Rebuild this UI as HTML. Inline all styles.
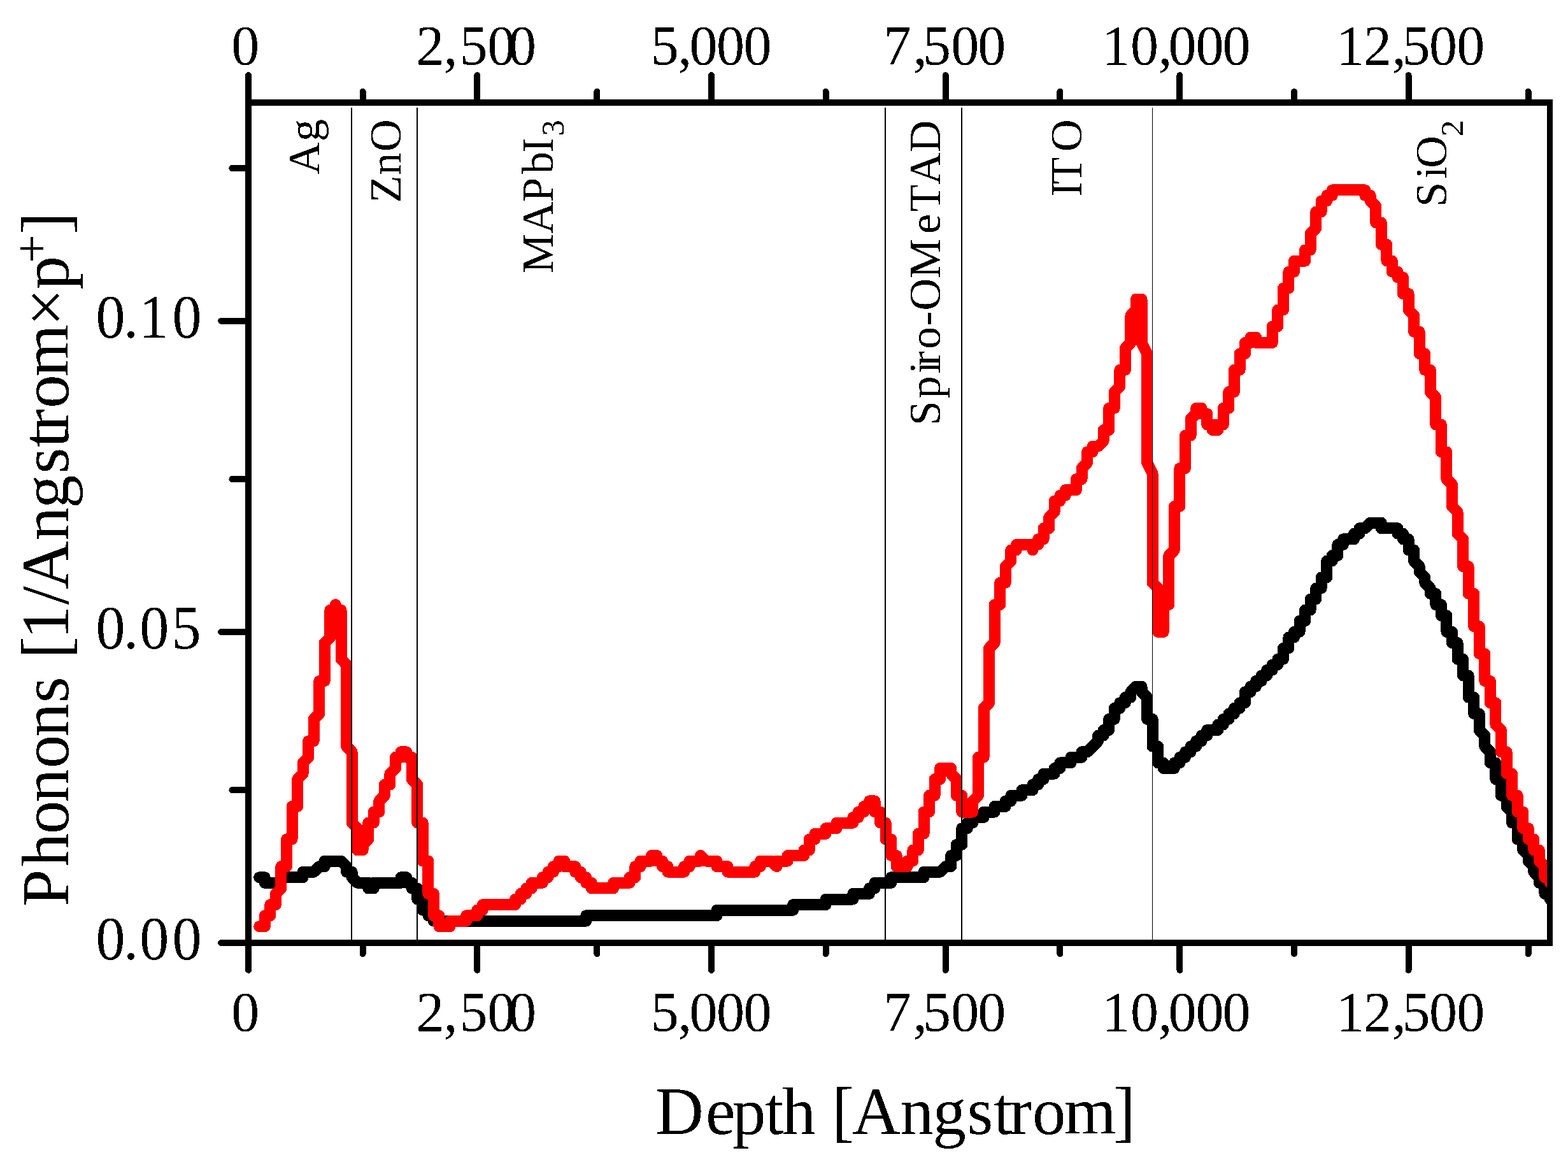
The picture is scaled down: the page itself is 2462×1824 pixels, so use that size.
<!DOCTYPE html>
<html lang="en">
<head>
<meta charset="utf-8">
<title>Phonons vs Depth</title>
<style>
html,body{margin:0;padding:0;background:#fff;}
body{width:2462px;height:1824px;overflow:hidden;}
svg{display:block;}
text{font-family:"Liberation Serif","DejaVu Serif",serif;fill:#000;}
</style>
</head>
<body>
<svg xmlns="http://www.w3.org/2000/svg" width="2462" height="1824" viewBox="0 0 2462 1824">
<rect x="0" y="0" width="2462" height="1824" fill="#fff"/>
<defs><filter id="bin" filterUnits="userSpaceOnUse" x="0" y="0" width="2462" height="1824" color-interpolation-filters="sRGB"><feComponentTransfer><feFuncA type="discrete" tableValues="0 1"/></feComponentTransfer></filter><clipPath id="plotclip"><rect x="390.1" y="161.0" width="2043.9" height="1319.0"/></clipPath></defs>
<g id="curves" clip-path="url(#plotclip)" shape-rendering="crispEdges">
<polyline points="407.2,1377.2 415.8,1377.2 415.8,1385.8 441.4,1385.8 441.4,1377.2 475.6,1377.2 475.6,1368.7 492.7,1368.7 501.3,1360.1 509.8,1360.1 509.8,1351.5 535.5,1351.5 544.0,1360.1 544.0,1368.7 552.6,1368.7 552.6,1377.2 561.1,1385.8 578.2,1385.8 578.2,1394.4 586.8,1394.4 586.8,1385.8 629.5,1385.8 629.5,1377.2 638.1,1377.2 638.1,1385.8 646.6,1385.8 646.6,1394.4 655.2,1394.4 655.2,1411.5 663.7,1411.5 663.7,1428.6 672.3,1428.6 672.3,1437.2 680.9,1437.2 680.9,1445.7 920.3,1445.7 920.3,1437.2 1125.5,1437.2 1125.5,1428.6 1245.2,1428.6 1245.2,1420.1 1296.6,1420.1 1296.6,1411.5 1339.3,1411.5 1339.3,1402.9 1365.0,1402.9 1365.0,1394.4 1373.5,1394.4 1373.5,1385.8 1399.2,1385.8 1399.2,1377.2 1450.5,1377.2 1450.5,1368.7 1476.1,1368.7 1484.7,1360.1 1493.2,1360.1 1493.2,1343.0 1501.8,1343.0 1501.8,1325.9 1510.3,1325.9 1510.3,1300.2 1518.9,1300.2 1518.9,1291.6 1527.4,1291.6 1527.4,1283.0 1544.6,1283.0 1544.6,1274.5 1561.7,1274.5 1561.7,1265.9 1578.8,1265.9 1578.8,1257.4 1587.3,1257.4 1587.3,1248.8 1604.4,1248.8 1604.4,1240.2 1621.5,1240.2 1621.5,1231.7 1630.1,1231.7 1630.1,1223.1 1638.6,1223.1 1638.6,1214.5 1655.7,1214.5 1655.7,1206.0 1664.3,1206.0 1664.3,1197.4 1681.4,1197.4 1681.4,1188.8 1698.5,1188.8 1698.5,1180.3 1707.0,1180.3 1724.1,1163.2 1724.1,1154.6 1732.7,1154.6 1732.7,1146.0 1741.2,1146.0 1741.2,1128.9 1749.8,1128.9 1749.8,1111.8 1758.3,1111.8 1758.3,1103.2 1766.9,1103.2 1766.9,1094.6 1775.4,1094.6 1775.4,1086.1 1784.0,1077.5 1792.5,1077.5 1792.5,1086.1 1801.1,1094.6 1801.1,1128.9 1809.6,1128.9 1809.6,1171.7 1818.2,1171.7 1818.2,1197.4 1826.8,1197.4 1826.8,1206.0 1843.9,1206.0 1843.9,1197.4 1852.4,1197.4 1852.4,1188.8 1861.0,1188.8 1861.0,1180.3 1869.5,1180.3 1869.5,1171.7 1878.1,1171.7 1878.1,1163.2 1886.6,1163.2 1886.6,1154.6 1895.2,1154.6 1895.2,1146.0 1912.3,1146.0 1912.3,1137.5 1920.8,1137.5 1920.8,1128.9 1929.4,1128.9 1929.4,1120.3 1937.9,1120.3 1937.9,1111.8 1946.5,1111.8 1946.5,1103.2 1955.0,1103.2 1955.0,1086.1 1963.6,1086.1 1963.6,1077.5 1972.1,1077.5 1972.1,1069.0 1980.7,1069.0 1980.7,1060.4 1989.2,1060.4 1989.2,1051.8 1997.8,1051.8 1997.8,1043.3 2006.3,1043.3 2006.3,1034.7 2014.9,1034.7 2014.9,1017.6 2023.4,1017.6 2023.4,1000.4 2032.0,1000.4 2032.0,991.9 2040.5,991.9 2040.5,974.8 2049.1,974.8 2049.1,957.6 2057.6,957.6 2057.6,940.5 2066.2,940.5 2066.2,923.4 2074.7,923.4 2074.7,906.3 2083.3,906.3 2083.3,880.6 2091.8,880.6 2091.8,872.0 2100.4,872.0 2100.4,854.9 2109.0,854.9 2109.0,846.3 2126.1,846.3 2126.1,837.7 2134.6,837.7 2134.6,829.2 2143.2,829.2 2151.7,820.6 2168.8,820.6 2168.8,829.2 2194.5,829.2 2194.5,837.7 2203.0,837.7 2203.0,846.3 2211.6,846.3 2211.6,863.4 2220.1,863.4 2220.1,880.6 2228.7,889.1 2228.7,897.7 2237.2,906.3 2237.2,914.8 2245.8,923.4 2245.8,931.9 2254.3,931.9 2254.3,949.1 2262.9,949.1 2262.9,966.2 2271.4,966.2 2271.4,991.9 2280.0,991.9 2280.0,1009.0 2288.5,1009.0 2288.5,1034.7 2297.1,1034.7 2297.1,1060.4 2305.6,1060.4 2305.6,1094.6 2314.2,1094.6 2314.2,1120.3 2322.7,1120.3 2322.7,1146.0 2331.3,1154.6 2331.3,1171.7 2339.8,1180.3 2339.8,1197.4 2348.4,1197.4 2348.4,1223.1 2356.9,1223.1 2356.9,1248.8 2365.5,1248.8 2365.5,1265.9 2374.0,1274.5 2374.0,1291.6 2382.6,1291.6 2382.6,1317.3 2391.2,1317.3 2391.2,1334.4 2399.7,1343.0 2399.7,1351.5 2408.3,1360.1 2408.3,1368.7 2416.8,1377.2 2416.8,1385.8 2425.4,1385.8 2425.4,1402.9 2433.9,1402.9 2433.9,1411.5 2442.5,1420.1" fill="none" stroke="#000" stroke-width="18.0" stroke-linejoin="round" stroke-linecap="round"/>
<polyline points="407.2,1454.3 415.8,1454.3 415.8,1437.2 424.3,1437.2 424.3,1420.1 432.9,1420.1 432.9,1402.9 441.4,1394.4 441.4,1360.1 450.0,1360.1 450.0,1317.3 458.5,1317.3 458.5,1265.9 467.1,1265.9 467.1,1223.1 475.6,1214.5 475.6,1197.4 484.2,1188.8 484.2,1163.2 492.7,1163.2 492.7,1128.9 501.3,1120.3 501.3,1069.0 509.8,1069.0 509.8,1009.0 518.4,1000.4 518.4,957.6 526.9,957.6 526.9,949.1 526.9,957.6 535.5,957.6 535.5,1034.7 544.0,1043.3 544.0,1171.7 552.6,1180.3 552.6,1291.6 561.1,1300.2 561.1,1334.4 569.7,1334.4 569.7,1325.9 578.2,1317.3 578.2,1291.6 586.8,1291.6 586.8,1274.5 595.3,1274.5 595.3,1257.4 603.9,1248.8 603.9,1231.7 612.4,1231.7 612.4,1214.5 621.0,1206.0 621.0,1188.8 629.5,1188.8 629.5,1180.3 638.1,1180.3 638.1,1188.8 646.6,1188.8 646.6,1223.1 655.2,1231.7 655.2,1291.6 663.7,1291.6 663.7,1351.5 672.3,1351.5 672.3,1402.9 680.9,1402.9 680.9,1437.2 689.4,1437.2 689.4,1454.3 706.5,1454.3 706.5,1445.7 732.2,1445.7 732.2,1437.2 749.3,1437.2 749.3,1428.6 757.8,1428.6 757.8,1420.1 809.1,1420.1 809.1,1411.5 817.7,1411.5 817.7,1402.9 826.2,1402.9 826.2,1394.4 834.8,1394.4 834.8,1385.8 851.9,1385.8 851.9,1377.2 860.4,1377.2 860.4,1368.7 869.0,1368.7 869.0,1360.1 877.5,1360.1 877.5,1351.5 886.1,1351.5 886.1,1360.1 903.2,1360.1 903.2,1368.7 911.7,1368.7 911.7,1377.2 920.3,1377.2 920.3,1385.8 928.8,1385.8 928.8,1394.4 963.1,1394.4 963.1,1385.8 988.7,1385.8 988.7,1377.2 997.3,1377.2 997.3,1360.1 1005.8,1360.1 1005.8,1351.5 1022.9,1351.5 1022.9,1343.0 1031.5,1343.0 1031.5,1351.5 1040.0,1351.5 1040.0,1360.1 1048.6,1360.1 1048.6,1368.7 1074.2,1368.7 1074.2,1360.1 1082.8,1360.1 1082.8,1351.5 1099.9,1351.5 1099.9,1343.0 1108.4,1351.5 1125.5,1351.5 1125.5,1360.1 1142.6,1360.1 1142.6,1368.7 1185.4,1368.7 1185.4,1360.1 1193.9,1360.1 1193.9,1351.5 1211.0,1351.5 1219.6,1360.1 1219.6,1351.5 1236.7,1351.5 1236.7,1343.0 1262.4,1343.0 1262.4,1334.4 1270.9,1334.4 1270.9,1317.3 1279.5,1317.3 1279.5,1308.7 1296.6,1308.7 1296.6,1300.2 1313.7,1300.2 1313.7,1291.6 1339.3,1291.6 1339.3,1283.0 1347.9,1283.0 1347.9,1274.5 1356.4,1274.5 1356.4,1265.9 1365.0,1265.9 1365.0,1257.4 1373.5,1257.4 1373.5,1274.5 1382.1,1274.5 1382.1,1291.6 1390.6,1291.6 1390.6,1317.3 1399.2,1317.3 1399.2,1343.0 1407.7,1343.0 1407.7,1360.1 1424.8,1360.1 1424.8,1351.5 1433.4,1351.5 1433.4,1334.4 1441.9,1334.4 1441.9,1308.7 1450.5,1308.7 1450.5,1274.5 1459.0,1274.5 1459.0,1248.8 1467.6,1248.8 1467.6,1223.1 1476.1,1223.1 1476.1,1206.0 1493.2,1206.0 1493.2,1214.5 1501.8,1223.1 1501.8,1248.8 1510.3,1248.8 1510.3,1274.5 1527.4,1274.5 1527.4,1257.4 1536.0,1248.8 1536.0,1188.8 1544.6,1188.8 1544.6,1111.8 1553.1,1103.2 1553.1,1017.6 1561.7,1009.0 1561.7,949.1 1570.2,949.1 1570.2,914.8 1578.8,914.8 1578.8,889.1 1587.3,880.6 1587.3,863.4 1595.9,863.4 1595.9,854.9 1621.5,854.9 1621.5,863.4 1621.5,854.9 1630.1,854.9 1630.1,846.3 1638.6,846.3 1638.6,829.2 1647.2,829.2 1647.2,812.1 1655.7,803.5 1655.7,786.4 1664.3,786.4 1664.3,777.8 1672.8,777.8 1672.8,769.2 1689.9,769.2 1689.9,752.1 1698.5,752.1 1698.5,735.0 1707.0,726.4 1707.0,709.3 1715.6,709.3 1715.6,700.7 1724.1,700.7 1732.7,692.2 1732.7,675.0 1741.2,675.0 1741.2,640.8 1749.8,640.8 1749.8,615.1 1758.3,606.5 1758.3,580.8 1766.9,580.8 1766.9,546.6 1775.4,538.0 1775.4,495.2 1784.0,486.6 1784.0,469.5 1792.5,469.5 1792.5,538.0 1801.1,555.2 1801.1,726.4 1809.6,743.5 1809.6,914.8 1818.2,923.4 1818.2,991.9 1826.8,991.9 1826.8,949.1 1835.3,949.1 1835.3,872.0 1843.9,863.4 1843.9,794.9 1852.4,794.9 1852.4,735.0 1861.0,735.0 1861.0,683.6 1869.5,683.6 1869.5,657.9 1878.1,649.4 1878.1,640.8 1886.6,640.8 1886.6,649.4 1895.2,649.4 1895.2,666.5 1903.7,666.5 1903.7,675.0 1912.3,675.0 1912.3,666.5 1920.8,666.5 1920.8,640.8 1929.4,640.8 1929.4,615.1 1937.9,615.1 1937.9,580.8 1946.5,580.8 1946.5,555.2 1955.0,555.2 1955.0,538.0 1963.6,538.0 1963.6,529.5 1972.1,529.5 1972.1,538.0 1997.8,538.0 1997.8,512.3 2006.3,512.3 2006.3,486.6 2014.9,486.6 2014.9,452.4 2023.4,452.4 2023.4,426.7 2032.0,426.7 2032.0,409.6 2049.1,409.6 2049.1,392.4 2057.6,392.4 2057.6,366.8 2066.2,358.2 2066.2,332.5 2074.7,332.5 2074.7,315.4 2083.3,315.4 2083.3,306.8 2091.8,306.8 2091.8,298.3 2143.2,298.3 2143.2,306.8 2151.7,306.8 2151.7,315.4 2160.3,323.9 2160.3,349.6 2168.8,349.6 2168.8,383.9 2177.4,383.9 2177.4,409.6 2185.9,409.6 2185.9,426.7 2194.5,426.7 2194.5,435.3 2203.0,435.3 2203.0,461.0 2211.6,461.0 2211.6,486.6 2220.1,495.2 2220.1,520.9 2228.7,520.9 2228.7,555.2 2237.2,555.2 2237.2,580.8 2245.8,580.8 2245.8,615.1 2254.3,623.7 2254.3,666.5 2262.9,666.5 2262.9,709.3 2271.4,709.3 2271.4,752.1 2280.0,760.7 2280.0,794.9 2288.5,803.5 2288.5,837.7 2297.1,846.3 2297.1,889.1 2305.6,889.1 2305.6,931.9 2314.2,931.9 2314.2,983.3 2322.7,983.3 2322.7,1026.1 2331.3,1026.1 2331.3,1069.0 2339.8,1069.0 2339.8,1103.2 2348.4,1103.2 2348.4,1137.5 2356.9,1146.0 2356.9,1180.3 2365.5,1180.3 2365.5,1214.5 2374.0,1214.5 2374.0,1248.8 2382.6,1248.8 2382.6,1274.5 2391.2,1274.5 2391.2,1300.2 2399.7,1300.2 2399.7,1317.3 2408.3,1317.3 2408.3,1334.4 2416.8,1334.4 2416.8,1351.5 2425.4,1360.1 2425.4,1377.2 2433.9,1377.2 2433.9,1385.8 2442.5,1394.4" fill="none" stroke="#ff0000" stroke-width="18.0" stroke-linejoin="round" stroke-linecap="round"/>
</g>
<g id="layers" stroke="#000" stroke-width="2" shape-rendering="crispEdges">
<line x1="552" y1="169" x2="552" y2="1476"/>
<line x1="655" y1="169" x2="655" y2="1476"/>
<line x1="1390" y1="169" x2="1390" y2="1476"/>
<line x1="1510" y1="169" x2="1510" y2="1476"/>
<line x1="1809.5" y1="169" x2="1809.5" y2="1476" stroke-width="1"/>
</g>
<g id="frame" stroke="#000" stroke-width="10" fill="none" stroke-linecap="round" shape-rendering="crispEdges">
<path d="M385,156H2438V1485H385Z M395,166V1475H2429V166Z" fill="#000" stroke="none" fill-rule="evenodd"/>
<line x1="390.1" y1="161.0" x2="390.1" y2="118.2"/><line x1="390.1" y1="1480.0" x2="390.1" y2="1522.8"/>
<line x1="569.7" y1="161.0" x2="569.7" y2="143.9"/><line x1="569.7" y1="1480.0" x2="569.7" y2="1497.1"/>
<line x1="749.3" y1="161.0" x2="749.3" y2="118.2"/><line x1="749.3" y1="1480.0" x2="749.3" y2="1522.8"/>
<line x1="937.4" y1="161.0" x2="937.4" y2="143.9"/><line x1="937.4" y1="1480.0" x2="937.4" y2="1497.1"/>
<line x1="1117.0" y1="161.0" x2="1117.0" y2="118.2"/><line x1="1117.0" y1="1480.0" x2="1117.0" y2="1522.8"/>
<line x1="1296.6" y1="161.0" x2="1296.6" y2="143.9"/><line x1="1296.6" y1="1480.0" x2="1296.6" y2="1497.1"/>
<line x1="1484.7" y1="161.0" x2="1484.7" y2="118.2"/><line x1="1484.7" y1="1480.0" x2="1484.7" y2="1522.8"/>
<line x1="1664.3" y1="161.0" x2="1664.3" y2="143.9"/><line x1="1664.3" y1="1480.0" x2="1664.3" y2="1497.1"/>
<line x1="1852.4" y1="161.0" x2="1852.4" y2="118.2"/><line x1="1852.4" y1="1480.0" x2="1852.4" y2="1522.8"/>
<line x1="2032.0" y1="161.0" x2="2032.0" y2="143.9"/><line x1="2032.0" y1="1480.0" x2="2032.0" y2="1497.1"/>
<line x1="2211.6" y1="161.0" x2="2211.6" y2="118.2"/><line x1="2211.6" y1="1480.0" x2="2211.6" y2="1522.8"/>
<line x1="2399.7" y1="161.0" x2="2399.7" y2="143.9"/><line x1="2399.7" y1="1480.0" x2="2399.7" y2="1497.1"/>
<line x1="390.0" y1="1480.0" x2="347.2" y2="1480.0"/>
<line x1="390.0" y1="1240.2" x2="364.4" y2="1240.2"/>
<line x1="390.0" y1="991.9" x2="347.2" y2="991.9"/>
<line x1="390.0" y1="752.1" x2="364.4" y2="752.1"/>
<line x1="390.0" y1="503.8" x2="347.2" y2="503.8"/>
<line x1="390.0" y1="264.0" x2="364.4" y2="264.0"/>
</g>
<g id="text" filter="url(#bin)">
<g id="xticks-top">
<text font-size="88" y="101.2" x="363.2">0</text>
<text font-size="88" y="101.2" x="653.5 696.4 721.5 765.2 797.9">2,500</text>
<text font-size="88" y="101.2" x="1021.7 1064.2 1082.4 1124.9 1167.5">5,000</text>
<text font-size="88" y="101.2" x="1387.0 1433.7 1449.1 1493.2 1535.2">7,500</text>
<text font-size="88" y="101.2" x="1730.0 1774.9 1818.5 1834.4 1877.5 1919.5">10,000</text>
<text font-size="88" y="101.2" x="2098.0 2141.0 2185.8 2201.6 2244.1 2287.2">12,500</text>
</g>
<g id="xticks-bottom">
<text font-size="88" y="1617.7" x="363.2">0</text>
<text font-size="88" y="1617.7" x="653.5 696.4 721.5 765.2 797.9">2,500</text>
<text font-size="88" y="1617.7" x="1021.7 1064.2 1082.4 1124.9 1167.5">5,000</text>
<text font-size="88" y="1617.7" x="1387.0 1433.7 1449.1 1493.2 1535.2">7,500</text>
<text font-size="88" y="1617.7" x="1730.0 1774.9 1818.5 1834.4 1877.5 1919.5">10,000</text>
<text font-size="88" y="1617.7" x="2098.0 2141.0 2185.8 2201.6 2244.1 2287.2">12,500</text>
</g>
<g id="yticks">
<text font-size="97" transform="scale(0.95,1)" y="530.3" x="158.3 204.1 229.8 284.7">0.10</text>
<text font-size="97" transform="scale(0.95,1)" y="1018.2" x="158.3 204.1 230.8 283.8">0.05</text>
<text font-size="97" transform="scale(0.95,1)" y="1506.3" x="158.3 204.1 230.8 284.7">0.00</text>
</g>
<g id="titles">
<text font-size="105" y="1779.5" x="1028.9 1108.1 1150.0 1201.3 1228.2 1280.7 1306.2 1338.1 1413.6 1464.4 1518.4 1560.3 1585.2 1621.0 1670.8 1748.2">Depth [Angstrom]</text>
<text transform="rotate(-90)" font-size="105"><tspan y="107.0" x="-1422.9 -1360.5 -1309.3 -1259.4 -1205.9 -1156.5 -1103.3 -1062.4 -1033.9 -1003.1 -949.3 -924.9 -848.5 -798.1 -743.6 -702.2 -677.0 -640.8 -591.2 -512.0 -454.6">Phonons [1/Angstrom×p</tspan><tspan font-size="79" y="75.6" x="-412.7">+</tspan><tspan y="107.0" x="-367.7">]</tspan></text>
</g>
<g id="layer-labels">
<text transform="rotate(-90)" font-size="70"><tspan y="501.0" x="-273.8 -222.0">Ag</tspan></text>
<text transform="rotate(-90)" font-size="70"><tspan y="628.9" x="-318.3 -274.7 -238.0">ZnO</tspan></text>
<text transform="rotate(-90)" font-size="70"><tspan y="868.2" x="-428.8 -367.2 -317.4 -272.9 -239.5">MAPbI</tspan><tspan font-size="50" y="884.9" x="-213.2">3</tspan></text>
<text transform="rotate(-90)" font-size="70"><tspan y="1475.5" x="-668.1 -625.3 -586.5 -574.2 -547.7 -511.6 -487.4 -436.7 -367.1 -332.2 -290.0 -239.3">Spiro-OMeTAD</tspan></text>
<text transform="rotate(-90)" font-size="70"><tspan y="1698.0" x="-308.5 -289.2 -238.0">ITO</tspan></text>
<text transform="rotate(-90)" font-size="70"><tspan y="2271.3" x="-324.8 -280.6 -263.8">SiO</tspan><tspan font-size="51" y="2297.2" x="-214.0">2</tspan></text>
</g>
</g>
</svg>
</body>
</html>
